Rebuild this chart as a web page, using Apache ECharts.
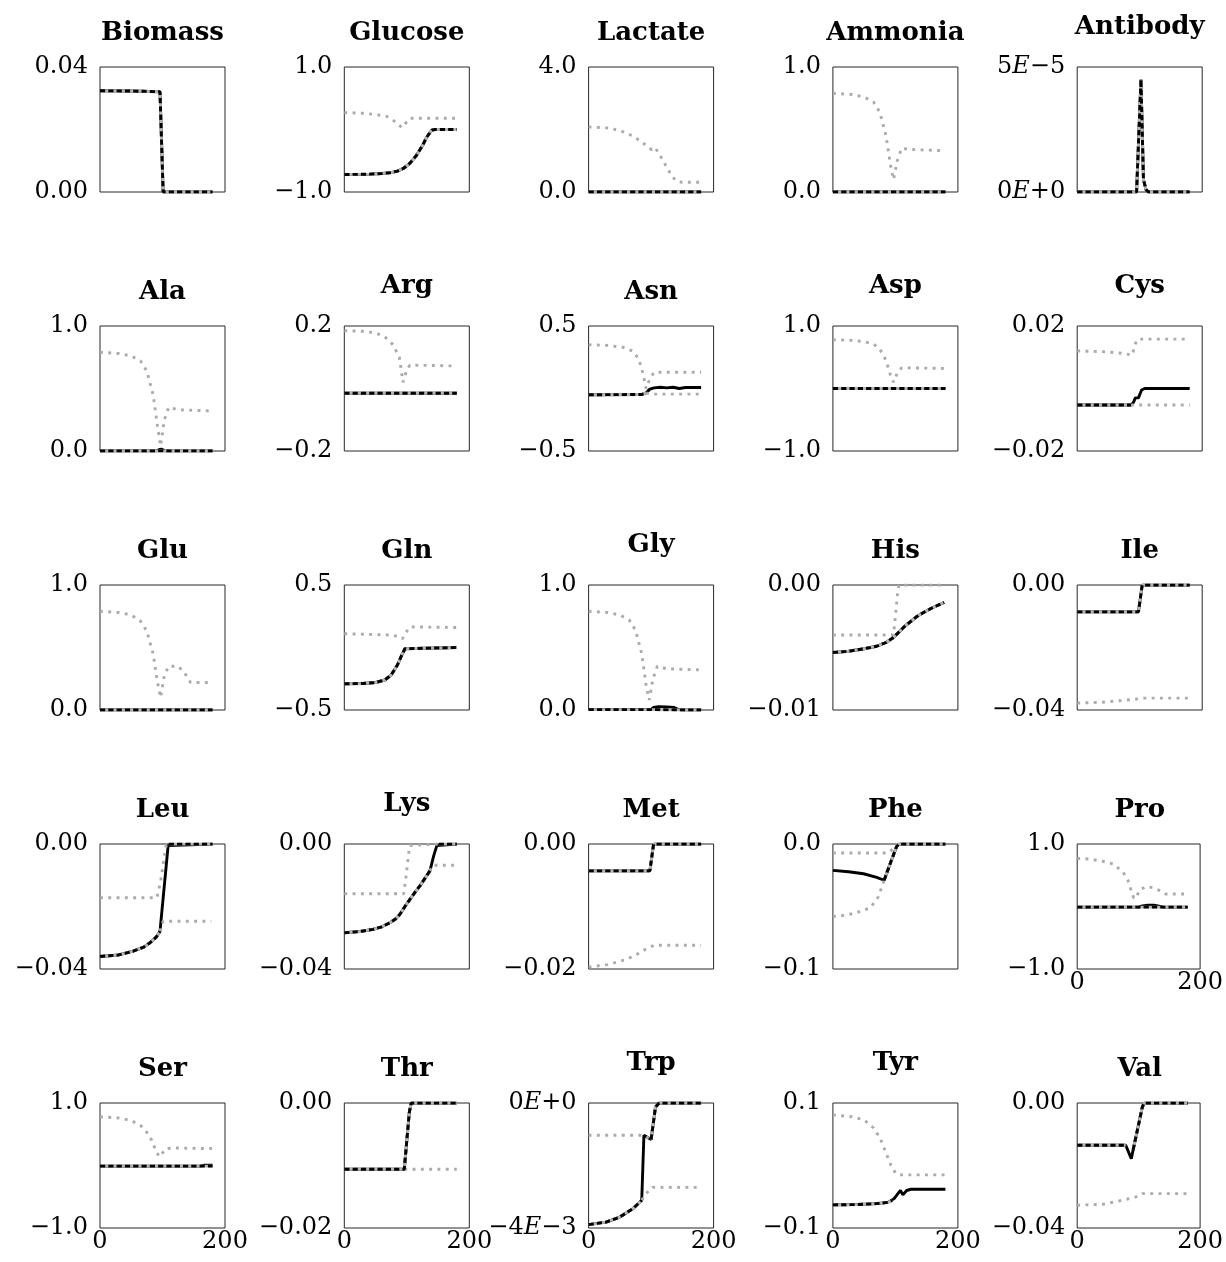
<!DOCTYPE html>
<html>
<head>
<meta charset="utf-8">
<script src="https://cdn.jsdelivr.net/npm/echarts@6/dist/echarts.min.js"></script>
<style>html,body{margin:0;padding:0;background:#fff}#c{width:1226px;height:1262px}</style>
</head>
<body>
<div id="c"></div>
<script>
// ---------------- DATA ----------------
const titles = ['Biomass','Glucose','Lactate','Ammonia','Antibody',
  'Ala','Arg','Asn','Asp','Cys',
  'Glu','Gln','Gly','His','Ile',
  'Leu','Lys','Met','Phe','Pro',
  'Ser','Thr','Trp','Tyr','Val'];
const yMin = [0,-1,0,0,0, 0,-0.2,-0.5,-1,-0.02, 0,-0.5,0,-0.01,-0.04, -0.04,-0.04,-0.02,-0.1,-1, -1,-0.02,-0.004,-0.1,-0.04];
const yMax = [0.04,1,4,1,5e-5, 1,0.2,0.5,1,0.02, 1,0.5,1,0,0, 0,0,0,0,1, 1,0,0,0.1,0];
const yTickLabels = [
  ['0.00','0.04'],['−1.0','1.0'],['0.0','4.0'],['0.0','1.0'],['0E+0','5E−5'],
  ['0.0','1.0'],['−0.2','0.2'],['−0.5','0.5'],['−1.0','1.0'],['−0.02','0.02'],
  ['0.0','1.0'],['−0.5','0.5'],['0.0','1.0'],['−0.01','0.00'],['−0.04','0.00'],
  ['−0.04','0.00'],['−0.04','0.00'],['−0.02','0.00'],['−0.1','0.0'],['−1.0','1.0'],
  ['−1.0','1.0'],['−0.02','0.00'],['−4E−3','0E+0'],['−0.1','0.1'],['−0.04','0.00']];
const xTickValues = [0, 200];
const xTickLabels = ['0', '200'];
const panelsWithXLabels = [19, 20, 21, 22, 23, 24];

// solid black line (time, value)
const solidLines = [
  [[0,0.0324],[50,0.0323],[96,0.0321],[101,0],[180,0]],
  [[0,-0.72],[20,-0.718],[40,-0.714],[60,-0.705],[75,-0.69],[85,-0.665],[95,-0.62],[105,-0.54],[115,-0.42],[125,-0.26],[132,-0.12],[140,-0.01],[145,0],[180,0]],
  [[0,0],[180,0]],
  [[0,0],[180,0]],
  [[0,0],[95,0],[102,4.5e-5],[106,0.5e-5],[110,0.1e-5],[114,0],[180,0]],
  [[0,0],[90,0],[95,0.012],[99,0.015],[104,0],[180,0]],
  [[0,-0.015],[180,-0.015]],
  [[0,-0.05],[85,-0.048],[92,-0.035],[98,-0.005],[105,0.005],[115,0.01],[125,0.005],[135,0.01],[145,0.0],[155,0.008],[180,0.008]],
  [[0,0],[180,0]],
  [[0,-0.0053],[86,-0.0053],[90,-0.0045],[93,-0.003],[98,-0.003],[103,-0.0005],[108,0],[180,0]],
  [[0,0],[180,0]],
  [[0,-0.29],[30,-0.288],[50,-0.28],[65,-0.26],[75,-0.22],[85,-0.14],[92,-0.06],[97,-0.01],[100,0],[180,0]],
  [[0,0.005],[100,0.005],[104,0.02],[112,0.027],[125,0.025],[137,0.02],[143,0.005],[150,0],[180,0]],
  [[0,-0.0054],[25,-0.0053],[50,-0.0051],[70,-0.0049],[85,-0.0046],[97,-0.0042],[105,-0.0038],[115,-0.0033],[125,-0.0029],[135,-0.0025],[145,-0.0022],[160,-0.0018],[178,-0.0014]],
  [[0,-0.0086],[98,-0.0086],[104,0],[180,0]],
  [[0,-0.036],[30,-0.0355],[53,-0.0343],[70,-0.033],[80,-0.0316],[90,-0.0298],[96,-0.0279],[109,-0.0005],[112,0],[180,0]],
  [[0,-0.0284],[25,-0.028],[46,-0.0273],[60,-0.0265],[73,-0.0252],[82,-0.024],[89,-0.0225],[97,-0.02],[105,-0.0177],[113,-0.0155],[121,-0.0134],[129,-0.011],[137,-0.0086],[143,-0.0038],[148,-0.0005],[151,0],[180,0]],
  [[0,-0.0043],[98,-0.0043],[104,0],[180,0]],
  [[0,-0.0211],[25,-0.0222],[49,-0.0238],[70,-0.0267],[82,-0.029],[92,-0.0152],[102,-0.002],[106,0],[180,0]],
  [[0,-0.01],[100,-0.01],[106,0.01],[115,0.02],[125,0.02],[133,0.005],[140,-0.01],[180,-0.01]],
  [[0,-0.01],[160,-0.01],[167,0.005],[180,0.005]],
  [[0,-0.0106],[96,-0.0106],[100,-0.006],[104,-0.0015],[107,0],[180,0]],
  [[0,-0.00389],[28,-0.00381],[50,-0.00365],[71,-0.00338],[85,-0.00311],[88.5,-0.00103],[100,-0.00117],[107,-0.00013],[113,0],[180,0]],
  [[0,-0.063],[40,-0.0625],[70,-0.061],[88,-0.059],[98,-0.053],[104,-0.045],[108,-0.04],[112,-0.047],[118,-0.04],[125,-0.038],[180,-0.038]],
  [[0,-0.0135],[79,-0.0135],[88,-0.0178],[106,-0.0013],[109,0],[180,0]]
];

// black dashed line; null = same as solid line; null entries inside a list break it
const dashedLines = [
  null, null, null, null, null,
  [[0,0],[180,0]],
  null,
  [[0,-0.05],[85,-0.048],[92,-0.035]],
  null,
  [[0,-0.0053],[86,-0.0053]],
  null, null,
  [[0,0.003],[100,0.003],[150,0],[180,0]],
  null, null,
  [[0,-0.036],[30,-0.0355],[53,-0.0343],[70,-0.033],[80,-0.0316],[90,-0.0298],[96,-0.0279],null,[110,0],[180,0]],
  [[0,-0.0284],[25,-0.028],[46,-0.0273],[60,-0.0265],[73,-0.0252],[82,-0.024],[89,-0.0225],[97,-0.02],[105,-0.0177],[113,-0.0155],[121,-0.0134],[129,-0.011],[137,-0.0086],null,[151,0],[180,0]],
  null,
  [[82,-0.029],[92,-0.0152],[102,-0.002],[106,0],[180,0]],
  [[0,-0.01],[180,-0.01]],
  [[0,-0.01],[180,-0.01]],
  null,
  [[0,-0.00389],[28,-0.00381],[50,-0.00365],[71,-0.00338],[85,-0.00311],null,[100,-0.00117],[107,-0.00013],[113,0],[180,0]],
  [[0,-0.063],[40,-0.0625],[70,-0.061],[88,-0.059],[95,-0.056]],
  [[0,-0.0135],[79,-0.0135],null,[91,-0.015],[106,-0.0013],[109,0],[180,0]]
];

// gray dotted upper bound (visible parts only)
const upperBounds = [
  null,
  [[0,0.27],[30,0.26],[50,0.24],[68,0.21],[84,0.11],[92,0.03],[105,0.18],[180,0.18]],
  [[0,2.08],[30,2.05],[50,1.97],[70,1.8],[85,1.6],[95,1.45],[101,1.35],[106,1.42],[112,1.25],[122,0.9],[132,0.55],[140,0.35],[150,0.31],[180,0.31]],
  [[0,0.79],[30,0.78],[50,0.76],[65,0.72],[75,0.64],[85,0.45],[92,0.22],[97,0.1],[103,0.25],[110,0.35],[125,0.34],[180,0.33]],
  null,
  [[0,0.79],[30,0.78],[50,0.76],[65,0.72],[75,0.64],[85,0.45],[92,0.2],[97,0.04],[103,0.25],[110,0.35],[125,0.33],[180,0.32]],
  [[0,0.185],[30,0.183],[50,0.178],[65,0.165],[78,0.14],[88,0.1],[94,0.02],[100,0.06],[105,0.075],[180,0.072]],
  [[0,0.35],[30,0.345],[55,0.33],[70,0.3],[80,0.24],[87,0.12],[92,0.0],[98,0.08],[105,0.13],[180,0.13]],
  [[0,0.78],[30,0.77],[50,0.75],[65,0.71],[75,0.63],[85,0.45],[92,0.22],[97,0.1],[103,0.25],[110,0.33],[125,0.33],[180,0.32]],
  [[0,0.012],[40,0.0118],[70,0.0113],[88,0.0107],[95,0.0155],[100,0.0158],[180,0.0158]],
  [[0,0.79],[30,0.78],[50,0.76],[65,0.71],[75,0.63],[85,0.45],[92,0.22],[97,0.1],[103,0.28],[110,0.35],[125,0.35],[135,0.3],[145,0.22],[180,0.22]],
  [[0,0.11],[40,0.105],[70,0.1],[85,0.09],[93,0.07],[100,0.13],[105,0.165],[180,0.16]],
  [[0,0.79],[30,0.78],[50,0.76],[65,0.72],[75,0.64],[85,0.45],[92,0.2],[97,0.08],[103,0.25],[110,0.35],[125,0.33],[180,0.32]],
  [[0,-0.004],[97,-0.004],[100,-0.0025],[104,-0.0004],[106,0],[180,0]],
  null,
  [[0,-0.0172],[91,-0.0172],[97,-0.012],[103,-0.004],[106,-0.0005],[110,0]],
  [[0,-0.0159],[95,-0.0159],[99,-0.01],[103,-0.003],[105,-0.0005],[108,0],[150,0]],
  null,
  [[0,-0.0072],[88,-0.0072],[96,-0.004],[104,0]],
  [[0,0.77],[20,0.76],[43,0.72],[59,0.68],[75,0.545],[83,0.41],[88,0.25],[92,0.136],[96,0.136],[101,0.26],[112,0.32],[123,0.3],[136,0.25],[144,0.2],[180,0.2]],
  [[0,0.78],[30,0.76],[50,0.72],[65,0.64],[75,0.53],[83,0.4],[90,0.22],[95,0.14],[100,0.2],[105,0.27],[120,0.28],[180,0.27]],
  null,
  [[0,-0.00103],[88.5,-0.00103],[100,-0.00117]],
  [[0,0.081],[30,0.078],[50,0.073],[65,0.06],[75,0.045],[85,0.02],[93,0.0],[100,-0.012],[105,-0.015],[180,-0.015]],
  null
];

// gray dotted lower bound (visible parts only)
const lowerBounds = [
  null, null, null, null, null,
  null, null,
  [[92,-0.035],[100,-0.045],[180,-0.045]],
  null,
  [[86,-0.0053],[180,-0.0053]],
  null, null, null, null,
  [[0,-0.0378],[40,-0.0375],[70,-0.037],[95,-0.0365],[105,-0.0362],[180,-0.0362]],
  [[96,-0.0279],[101,-0.0247],[178,-0.0247]],
  [[137,-0.0086],[141,-0.0068],[178,-0.0068]],
  [[0,-0.0197],[30,-0.0193],[60,-0.0185],[80,-0.0175],[95,-0.0166],[105,-0.0162],[180,-0.0162]],
  [[0,-0.058],[20,-0.057],[38,-0.055],[60,-0.051],[73,-0.042],[82,-0.029]],
  null, null,
  [[96,-0.0106],[180,-0.0106]],
  [[85,-0.00311],[92,-0.0029],[102,-0.0027],[178,-0.0027]],
  null,
  [[0,-0.0327],[42,-0.0324],[74,-0.0311],[95,-0.0301],[106,-0.029],[179,-0.029]]
];

// ---------------- LAYOUT / STYLE ----------------
const FONT = 'DejaVu Serif';
const BOX = 125, COL0 = 100, COLSTEP = 244.3, ROW0 = 67, ROWSTEP = 259;
const LW = 2.9;

function splitSegments(pts) {
  const segs = []; let cur = [];
  pts.forEach(p => { if (p === null) { if (cur.length) segs.push(cur); cur = []; } else cur.push(p); });
  if (cur.length) segs.push(cur);
  return segs;
}
function fmtLabel(s) { return s.replace(/E/g, '{i|E}'); }

const grids = [], xAxes = [], yAxes = [], series = [], titleList = [];
titles.forEach((name, i) => {
  const left = COL0 + (i % 5) * COLSTEP;
  const top = ROW0 + Math.floor(i / 5) * ROWSTEP;
  grids.push({ left: left, top: top, width: BOX, height: BOX, show: true,
    borderColor: '#262626', borderWidth: 1, backgroundColor: 'rgba(0,0,0,0)' });
  const showX = panelsWithXLabels.indexOf(i) >= 0;
  const rich = { i: { fontStyle: 'italic', fontFamily: FONT, fontSize: 24, color: '#000' } };
  xAxes.push({ type: 'value', gridIndex: i, min: 0, max: 200,
    axisLine: { show: false }, axisTick: { show: false }, splitLine: { show: false },
    axisLabel: { show: showX, customValues: xTickValues, margin: 2, fontFamily: FONT, fontSize: 24, color: '#000',
      formatter: v => xTickLabels[xTickValues.indexOf(v)] } });
  yAxes.push({ type: 'value', gridIndex: i, min: yMin[i], max: yMax[i],
    axisLine: { show: false }, axisTick: { show: false }, splitLine: { show: false },
    axisLabel: { customValues: [yMin[i], yMax[i]], margin: 12, fontFamily: FONT, fontSize: 24, color: '#000', rich: rich,
      formatter: v => fmtLabel(Math.abs(v - yMin[i]) < Math.abs(v - yMax[i]) ? yTickLabels[i][0] : yTickLabels[i][1]) } });
  const hasDesc = /[gjpqy]/.test(name);
  titleList.push({ text: name, left: left + BOX / 2, top: top - 47 - (hasDesc ? 6 : 0), textAlign: 'center', padding: 0,
    textStyle: { fontFamily: FONT, fontWeight: 'bold', fontSize: 26, color: '#000' } });

  const base = { type: 'line', xAxisIndex: i, yAxisIndex: i, showSymbol: false, symbol: 'none',
    silent: true, animation: false, smooth: false };
  series.push(Object.assign({}, base, { data: solidLines[i], z: 2,
    lineStyle: { color: '#000', width: LW } }));
  [upperBounds[i], lowerBounds[i]].forEach(b => {
    if (!b) return;
    splitSegments(b).forEach(seg => series.push(Object.assign({}, base, { data: seg, z: 3,
      lineStyle: { color: '#ababab', width: LW, type: [2.9, 5.4], cap: 'butt' } })));
  });
  const d = dashedLines[i] || solidLines[i];
  splitSegments(d).forEach(seg => {
    series.push(Object.assign({}, base, { data: seg, z: 4,
      lineStyle: { color: '#b5b5b5', width: LW } }));
    series.push(Object.assign({}, base, { data: seg, z: 5,
      lineStyle: { color: '#000', width: LW, type: [5.2, 3.1], cap: 'butt' } }));
  });
});

const chart = echarts.init(document.getElementById('c'), null, { renderer: 'canvas' });
chart.setOption({ animation: false, backgroundColor: '#fff', title: titleList,
  grid: grids, xAxis: xAxes, yAxis: yAxes, series: series });
</script>
</body>
</html>
